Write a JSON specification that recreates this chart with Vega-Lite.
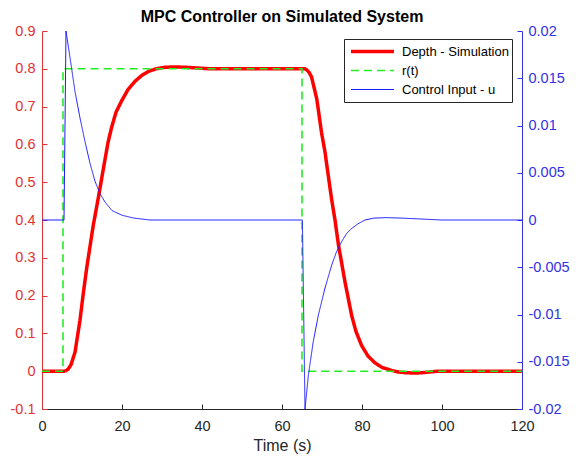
{
  "$schema": "https://vega.github.io/schema/vega-lite/v6.json",
  "width": 480,
  "height": 378,
  "autosize": {"type": "none"},
  "padding": {"left": 42, "top": 31, "right": 57, "bottom": 48},
  "background": "white",
  "config": {
    "view": {"stroke": null},
    "font": "Liberation Sans",
    "locale": {"number": {"decimal": ".", "thousands": ",", "grouping": [3], "currency": ["$", ""], "minus": "-"}},
    "axis": {"grid": false, "labelFont": "Liberation Sans", "labelFontSize": 14.5, "titleFont": "Liberation Sans", "tickSize": -5, "labelPadding": 12, "domainWidth": 1, "tickWidth": 1, "labelOverlap": false, "labelFlush": false}
  },
  "title": {"text": "MPC Controller on Simulated System", "frame": "group", "anchor": "middle", "fontSize": 16, "fontWeight": "bold", "color": "#000000", "font": "Liberation Sans", "offset": 4, "dy": 6},
  "data": {"values": [
    {"time": 0, "series": "Depth - Simulation", "value": 0},
    {"time": 5, "series": "Depth - Simulation", "value": 0},
    {"time": 5.75, "series": "Depth - Simulation", "value": 0},
    {"time": 6.5, "series": "Depth - Simulation", "value": 0.005},
    {"time": 7.25, "series": "Depth - Simulation", "value": 0.017},
    {"time": 8.25, "series": "Depth - Simulation", "value": 0.05},
    {"time": 9.5, "series": "Depth - Simulation", "value": 0.135},
    {"time": 10.25, "series": "Depth - Simulation", "value": 0.2},
    {"time": 11.2, "series": "Depth - Simulation", "value": 0.275},
    {"time": 12, "series": "Depth - Simulation", "value": 0.33},
    {"time": 12.8, "series": "Depth - Simulation", "value": 0.385},
    {"time": 14.1, "series": "Depth - Simulation", "value": 0.46},
    {"time": 15, "series": "Depth - Simulation", "value": 0.515},
    {"time": 15.75, "series": "Depth - Simulation", "value": 0.56},
    {"time": 16.5, "series": "Depth - Simulation", "value": 0.605},
    {"time": 17.4, "series": "Depth - Simulation", "value": 0.645},
    {"time": 18.5, "series": "Depth - Simulation", "value": 0.685},
    {"time": 19.9, "series": "Depth - Simulation", "value": 0.715},
    {"time": 21.5, "series": "Depth - Simulation", "value": 0.745},
    {"time": 23.25, "series": "Depth - Simulation", "value": 0.767},
    {"time": 25, "series": "Depth - Simulation", "value": 0.783},
    {"time": 26.6, "series": "Depth - Simulation", "value": 0.793},
    {"time": 28.5, "series": "Depth - Simulation", "value": 0.8},
    {"time": 30.75, "series": "Depth - Simulation", "value": 0.804},
    {"time": 33, "series": "Depth - Simulation", "value": 0.805},
    {"time": 36, "series": "Depth - Simulation", "value": 0.804},
    {"time": 39, "series": "Depth - Simulation", "value": 0.802},
    {"time": 42, "series": "Depth - Simulation", "value": 0.8},
    {"time": 65, "series": "Depth - Simulation", "value": 0.8},
    {"time": 65.75, "series": "Depth - Simulation", "value": 0.8},
    {"time": 66.2, "series": "Depth - Simulation", "value": 0.797},
    {"time": 66.8, "series": "Depth - Simulation", "value": 0.79},
    {"time": 67.4, "series": "Depth - Simulation", "value": 0.778},
    {"time": 68.7, "series": "Depth - Simulation", "value": 0.72},
    {"time": 69.9, "series": "Depth - Simulation", "value": 0.63},
    {"time": 70.75, "series": "Depth - Simulation", "value": 0.58},
    {"time": 71.6, "series": "Depth - Simulation", "value": 0.515},
    {"time": 72.4, "series": "Depth - Simulation", "value": 0.455},
    {"time": 73.25, "series": "Depth - Simulation", "value": 0.4},
    {"time": 74.1, "series": "Depth - Simulation", "value": 0.335},
    {"time": 75.75, "series": "Depth - Simulation", "value": 0.236},
    {"time": 77.4, "series": "Depth - Simulation", "value": 0.148},
    {"time": 78.5, "series": "Depth - Simulation", "value": 0.105},
    {"time": 79.9, "series": "Depth - Simulation", "value": 0.068},
    {"time": 81.5, "series": "Depth - Simulation", "value": 0.04},
    {"time": 83.25, "series": "Depth - Simulation", "value": 0.022},
    {"time": 85, "series": "Depth - Simulation", "value": 0.01},
    {"time": 87.4, "series": "Depth - Simulation", "value": 0.002},
    {"time": 89, "series": "Depth - Simulation", "value": -0.002},
    {"time": 91, "series": "Depth - Simulation", "value": -0.004},
    {"time": 93, "series": "Depth - Simulation", "value": -0.005},
    {"time": 95, "series": "Depth - Simulation", "value": -0.004},
    {"time": 97, "series": "Depth - Simulation", "value": -0.002},
    {"time": 99, "series": "Depth - Simulation", "value": 0},
    {"time": 120, "series": "Depth - Simulation", "value": 0},
    {"time": 0, "series": "r(t)", "value": 0},
    {"time": 5.25, "series": "r(t)", "value": 0},
    {"time": 5.25, "series": "r(t)", "value": 0.8},
    {"time": 65, "series": "r(t)", "value": 0.8},
    {"time": 65, "series": "r(t)", "value": 0},
    {"time": 120, "series": "r(t)", "value": 0},
    {"time": 0, "series": "Control Input - u", "value": 0},
    {"time": 5.5, "series": "Control Input - u", "value": 0},
    {"time": 6, "series": "Control Input - u", "value": 0.02},
    {"time": 7, "series": "Control Input - u", "value": 0.0172},
    {"time": 8.25, "series": "Control Input - u", "value": 0.0136},
    {"time": 9.5, "series": "Control Input - u", "value": 0.0108},
    {"time": 10.75, "series": "Control Input - u", "value": 0.0083},
    {"time": 12, "series": "Control Input - u", "value": 0.006},
    {"time": 13.25, "series": "Control Input - u", "value": 0.0041},
    {"time": 14.5, "series": "Control Input - u", "value": 0.0028},
    {"time": 15.75, "series": "Control Input - u", "value": 0.0019},
    {"time": 17.5, "series": "Control Input - u", "value": 0.001},
    {"time": 20, "series": "Control Input - u", "value": 0.0005},
    {"time": 23, "series": "Control Input - u", "value": 0.0002},
    {"time": 27, "series": "Control Input - u", "value": 0},
    {"time": 65.1, "series": "Control Input - u", "value": 0},
    {"time": 65.75, "series": "Control Input - u", "value": -0.02},
    {"time": 66.6, "series": "Control Input - u", "value": -0.0164},
    {"time": 67.8, "series": "Control Input - u", "value": -0.0129},
    {"time": 69.1, "series": "Control Input - u", "value": -0.01005},
    {"time": 70.75, "series": "Control Input - u", "value": -0.0072},
    {"time": 72.4, "series": "Control Input - u", "value": -0.0048},
    {"time": 73.6, "series": "Control Input - u", "value": -0.0034},
    {"time": 74.9, "series": "Control Input - u", "value": -0.0023},
    {"time": 76.2, "series": "Control Input - u", "value": -0.0014},
    {"time": 77.4, "series": "Control Input - u", "value": -0.0009},
    {"time": 79, "series": "Control Input - u", "value": -0.0004},
    {"time": 80.75, "series": "Control Input - u", "value": 0},
    {"time": 83, "series": "Control Input - u", "value": 0.0002},
    {"time": 86, "series": "Control Input - u", "value": 0.00025},
    {"time": 90, "series": "Control Input - u", "value": 0.0002},
    {"time": 95, "series": "Control Input - u", "value": 0.0001},
    {"time": 100, "series": "Control Input - u", "value": 0},
    {"time": 120, "series": "Control Input - u", "value": 0}
  ]},
  "encoding": {
    "x": {"field": "time", "type": "quantitative",
      "scale": {"domain": [0, 120], "nice": false, "zero": false},
      "axis": {"values": [0, 20, 40, 60, 80, 100, 120], "title": "Time (s)", "titleFontSize": 16, "titleFontWeight": "normal", "titleColor": "#262626", "labelColor": "#262626", "domainColor": "#262626", "tickColor": "#262626", "labelPadding": 15, "titlePadding": 5}
    },
    "color": {"field": "series", "type": "ordinal",
      "scale": {"domain": ["Depth - Simulation", "r(t)", "Control Input - u"], "range": ["#ff0000", "#22ee22", "#1a1aff"]},
      "legend": {"orient": "none", "legendX": 302, "legendY": 8, "title": null, "symbolType": "stroke", "symbolSize": 1849, "clipHeight": 19, "labelFontSize": 13, "labelFont": "Liberation Sans", "labelColor": "#000000", "padding": 3, "strokeColor": "#262626", "fillColor": "white", "labelOffset": 6, "symbolOffset": 2, "rowPadding": 0, "cornerRadius": 0, "labelLimit": 0}
    },
    "strokeDash": {"field": "series", "type": "ordinal",
      "scale": {"domain": ["Depth - Simulation", "r(t)", "Control Input - u"], "range": [[1, 0], [8, 5], [1, 0]]}
    },
    "strokeWidth": {"field": "series", "type": "ordinal",
      "scale": {"type": "ordinal", "domain": ["Depth - Simulation", "r(t)", "Control Input - u"], "range": [3.5, 1.6, 1]}
    },
    "order": {"value": null}
  },
  "layer": [
    {
      "transform": [{"filter": "datum.series !== 'Control Input - u'"}],
      "mark": {"type": "line", "clip": true},
      "encoding": {
        "y": {"field": "value", "type": "quantitative",
          "scale": {"domain": [-0.1, 0.9], "nice": false, "zero": false},
          "axis": {"orient": "left", "title": null, "values": [-0.1, 0, 0.1, 0.2, 0.3, 0.4, 0.5, 0.6, 0.7, 0.8, 0.9], "format": "~g", "labelColor": "#e23232", "domainColor": "#e23232", "tickColor": "#e23232"}
        }
      }
    },
    {
      "transform": [{"filter": "datum.series === 'Control Input - u'"}],
      "mark": {"type": "line", "clip": true},
      "encoding": {
        "y": {"field": "value", "type": "quantitative",
          "scale": {"domain": [-0.02, 0.02], "nice": false, "zero": false},
          "axis": {"orient": "right", "title": null, "labelPadding": 11, "values": [-0.02, -0.015, -0.01, -0.005, 0, 0.005, 0.01, 0.015, 0.02], "format": "~g", "labelColor": "#3232e2", "domainColor": "#3232e2", "tickColor": "#3232e2"}
        }
      }
    }
  ],
  "resolve": {"scale": {"y": "independent"}}
}
